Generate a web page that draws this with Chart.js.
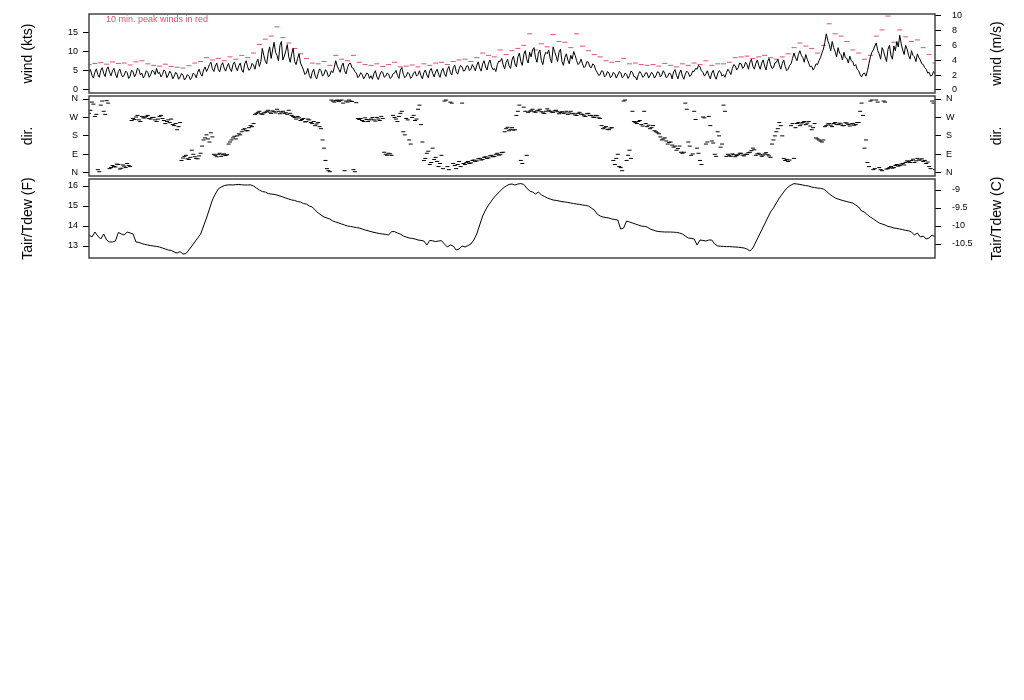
<!DOCTYPE html>
<html>
<head>
<meta charset="utf-8">
<script src="https://cdn.jsdelivr.net/npm/chart.js@4.4.0/dist/chart.umd.min.js"></script>
<style>
  body { margin: 0; background: #fff; }
  #wrap { position: relative; width: 1024px; height: 700px; }
  #wrap canvas { position: absolute; left: 0; top: 0; }
</style>
</head>
<body>
<div id="wrap">
  <canvas id="windChart" width="1024" height="270"></canvas>
  <canvas id="dirChart" width="1024" height="270"></canvas>
  <canvas id="tempChart" width="1024" height="270"></canvas>
</div>
<script>
// 3 days of station data, hours 0..72
var hoursTotal = 72;

// mean wind, kts, every 7.5 min
var windKts = [
  4.5,5.3,3.8,3.1,4.6,5.5,4.0,3.3,5.1,5.8,4.3,3.5,5.4,6.0,4.6,3.7,5.0,5.6,4.2,3.2,4.8,5.4,4.1,3.4,
  3.9,4.9,4.5,3.0,3.6,5.2,4.7,3.4,4.2,5.7,5.3,3.9,4.4,3.1,3.8,5.0,4.6,3.3,4.0,5.1,4.9,4.0,5.6,4.3,
  4.6,3.4,4.0,5.2,4.8,3.2,3.9,4.9,4.3,2.9,3.6,4.6,4.1,2.8,3.4,4.3,3.8,2.6,3.1,4.0,3.6,2.7,3.3,4.4,
  4.0,3.2,4.6,5.4,4.2,3.6,5.2,6.0,4.8,5.6,6.6,7.2,5.5,4.8,6.2,7.0,5.4,4.7,6.4,7.1,5.7,4.9,6.1,6.9,
  5.5,4.8,6.6,7.3,5.9,5.0,6.3,7.0,5.2,4.6,6.8,7.6,6.0,5.1,5.6,6.9,6.5,5.4,7.2,8.0,6.1,7.4,10.8,9.0,
  7.5,6.8,9.6,11.2,8.2,10.4,12.4,9.8,9.0,7.6,11.6,12.6,7.8,8.8,10.2,11.8,8.6,7.2,9.4,10.8,7.4,6.6,8.2,9.4,
  7.0,6.2,5.2,4.0,4.4,5.6,3.8,3.0,4.6,5.4,3.6,2.9,4.3,5.5,5.0,3.6,4.1,5.3,4.7,3.4,3.9,5.0,4.5,5.9,
  7.6,6.2,5.4,4.6,6.2,7.0,5.0,4.2,5.8,6.8,7.0,5.8,5.6,4.8,4.4,3.2,3.6,4.5,4.0,2.9,3.5,4.4,4.2,3.0,
  3.7,2.8,4.3,5.0,3.4,2.7,3.9,4.8,4.6,3.3,3.6,4.4,4.1,3.0,3.3,4.2,4.4,5.1,3.8,3.0,5.2,5.8,4.1,3.2,
  3.6,4.6,4.2,3.0,3.5,4.4,4.8,3.6,4.0,5.0,3.7,2.9,4.5,5.2,3.9,3.2,5.0,5.6,4.3,3.4,4.7,5.4,4.1,3.3,
  4.9,5.6,4.2,3.5,5.3,6.1,4.6,3.9,5.8,6.5,4.8,4.1,5.5,6.4,6.0,4.9,5.1,6.2,6.3,5.0,5.4,6.6,5.9,5.0,
  6.4,7.3,5.7,4.9,6.8,7.6,6.0,5.2,7.0,7.8,6.2,5.3,5.6,4.8,6.6,7.5,7.4,8.2,6.5,5.5,7.2,8.0,6.3,5.6,
  7.8,8.8,6.8,6.0,8.6,9.6,7.4,6.4,9.2,10.2,8.0,7.0,9.8,8.6,10.5,11.0,8.4,7.2,9.6,10.4,7.6,6.6,8.8,9.8,
  9.4,10.4,8.2,7.0,11.2,10.0,8.8,7.4,9.8,10.6,7.4,6.4,8.4,9.4,7.8,6.8,9.0,8.0,10.0,9.0,7.6,6.6,7.0,8.0,
  6.8,5.8,6.2,7.4,7.2,6.0,5.8,6.8,6.4,5.2,4.6,3.8,4.0,5.0,4.8,3.4,3.8,4.8,4.4,3.2,3.6,4.6,4.2,3.1,
  3.9,4.8,4.5,3.2,3.5,4.4,4.1,3.0,3.7,4.9,4.6,3.5,3.4,2.6,4.0,4.8,4.3,3.3,3.6,4.5,4.4,3.1,3.8,4.6,
  4.1,3.1,3.7,4.7,4.6,3.4,3.9,5.0,4.3,3.2,3.5,4.4,4.2,2.9,4.7,5.3,3.8,2.9,4.4,5.2,3.6,2.8,4.1,4.9,
  4.5,3.5,3.9,4.9,4.8,5.6,5.4,6.4,6.0,5.0,4.6,3.6,4.2,5.0,3.8,2.9,4.4,5.1,3.6,2.8,4.2,5.0,4.7,3.6,
  4.0,3.3,4.5,5.4,4.8,4.0,5.6,6.6,6.3,5.2,5.8,7.0,6.8,5.6,6.0,7.2,6.6,5.4,7.2,8.0,6.2,5.4,6.9,7.8,
  6.4,5.4,7.0,7.8,6.2,5.2,7.4,8.2,6.6,5.6,5.8,7.0,7.2,8.0,6.5,5.4,6.9,7.8,6.1,5.0,5.4,6.4,6.8,8.2,
  9.6,8.4,7.6,9.2,10.2,9.0,8.4,7.2,9.2,8.0,7.0,6.0,6.2,5.2,5.8,6.8,6.6,7.6,8.4,9.6,10.6,12.4,14.6,12.8,
  11.8,10.2,12.6,11.0,10.0,8.6,11.0,9.6,9.2,7.8,9.8,8.4,8.2,7.0,8.8,7.6,7.4,6.2,6.6,5.4,5.0,4.0,3.4,4.2,
  4.4,3.6,5.0,6.8,8.6,9.8,10.4,11.4,12.2,10.2,9.4,8.0,11.0,10.0,8.6,7.4,10.6,11.6,9.0,8.0,11.4,10.2,12.6,11.2,
  14.2,12.0,10.4,9.2,11.6,10.6,9.0,8.0,10.2,9.0,8.6,7.4,9.4,8.4,7.8,6.8,6.6,5.8,5.4,4.4,4.6,3.6,3.8,4.8,4.2
];

// 10 min. peak winds, kts, every 30 min
var peakKts = [
  6.6,6.9,7.1,6.7,7.3,6.9, 7.0,6.5,7.3,7.6,6.8,6.4,
  6.2,6.7,6.1,5.9,5.7,6.3, 7.0,7.4,8.4,7.8,8.2,7.6,
  8.6,8.0,9.0,8.4,9.6,11.8, 13.2,14.0,16.4,13.6,12.2,10.8,
  9.4,8.2,7.0,6.8,7.4,6.4, 9.0,8.0,7.6,9.0,7.2,6.6,
  6.4,6.8,6.1,6.6,7.2,6.0, 6.2,6.5,6.0,6.8,6.4,7.0,
  7.2,6.6,7.4,7.8,8.0,7.4, 8.4,9.6,9.0,8.6,10.4,9.2,
  10.2,10.8,11.6,14.6,10.4,12.0, 11.2,14.4,12.6,12.4,11.0,14.6,
  11.4,10.2,9.2,8.6,7.6,7.2, 7.4,8.2,6.8,7.0,6.6,6.4,
  6.6,6.2,6.9,6.4,6.0,6.8, 6.4,7.0,6.6,7.6,6.4,6.8,
  6.8,7.2,8.4,8.6,8.8,8.2, 8.6,9.0,8.4,8.0,8.6,9.4,
  11.0,12.2,11.4,10.8,9.6,11.6, 17.2,14.6,14.0,12.6,10.4,9.6,
  8.0,9.0,14.0,15.6,19.2,12.4, 15.6,13.8,12.6,13.0,11.0,9.2,
  7.0
];

// wind direction, degrees, every 7.5 min
var windDir = [
  290,305,345,335,275,285,15,5,330,350,300,285,352,340,20,25,
  35,30,28,42,40,18,22,38,32,25,45,35,30,255,
  265,260,272,280,258,250,275,268,268,275,280,265,262,270,270,258,250,262,275,280,265,255,240,250,258,245,262,235,
  230,240,210,225,245,60,
  72,80,85,68,65,75,110,90,78,70,68,82,95,130,
  160,170,185,165,150,195,175,90,
  85,78,90,95,80,88,92,84,88,140,
  150,160,170,178,165,180,190,185,200,210,215,205,205,220,230,225,240,285,
  290,295,300,288,285,292,295,300,305,296,290,302,298,292,310,300,288,296,300,290,293,285,305,290,
  280,275,270,262,275,268,255,260,265,248,250,262,258,245,240,250,230,238,245,225,215,160,
  120,60,20,10,5,355,350,345,
  352,355,348,352,355,340,10,350,345,355,350,348,15,5,342,265,
  260,265,255,250,268,260,250,258,262,270,258,252,270,262,255,275,265,100,90,85,95,92,85,280,270,262,
  250,275,290,300,200,185,265,258,160,140,270,280,255,262,310,330,235,150,
  60,70,95,105,40,50,120,65,75,55,30,45,85,20,
  350,355,30,15,345,340,45,35,20,40,55,30,340,45,
  40,50,55,45,48,60,62,55,58,68,70,62,65,75,78,70,72,82,85,78,80,90,95,86,88,98,100,200,
  215,222,205,212,220,208,210,280,
  300,330,60,45,320,300,85,295,
  300,305,310,298,295,302,305,310,298,292,290,300,312,305,300,296,295,302,305,298,288,294,298,290,292,300,
  285,292,300,288,290,282,280,290,295,286,285,278,275,288,290,280,280,272,270,280,278,268,265,230,
  215,220,225,212,210,218,220,60,
  40,70,90,30,25,10,350,355,60,85,110,70,300,250,
  245,240,250,255,235,228,300,240,225,232,215,220,230,205,200,195,190,175,160,165,170,155,140,148,150,135,125,130,110,118,130,100,
  95,100,340,310,150,130,85,92,300,260,120,95,60,40,272,268,140,150,275,230,155,145,90,80,200,180,125,140,330,300,80,90,
  85,80,92,88,78,84,88,95,95,86,82,90,90,98,100,108,120,112,85,92,95,88,80,86,92,98,88,82,75,140,
  160,180,200,215,245,230,180,70,
  60,65,55,62,230,240,70,220,
  240,245,230,238,245,250,235,242,250,228,210,220,240,170,
  165,160,155,150,
  160,225,230,238,240,232,225,240,245,236,235,242,238,230,230,244,242,235,228,238,240,232,235,245,245,300,
  340,280,120,160,50,30,
  350,355,15,20,355,345,25,15,10,350,345,18,
  20,25,30,22,25,35,40,32,35,42,45,38,50,58,
  55,50,60,66,50,58,70,62,62,68,55,60,45,52,30,20,350,340,15
];

// air temperature, F, every 15 min
var tairF = [
  13.55,13.45,13.7,13.5,13.35,13.6,13.3,13.2,13.2,13.25,13.68,13.6,13.55,13.7,13.65,13.6,
  13.2,13.18,13.12,13.08,13.05,13.02,13.0,12.98,12.95,12.9,12.85,12.8,12.78,12.7,12.65,12.72,
  12.6,12.62,12.8,13.0,13.2,13.4,13.6,14.0,14.4,14.85,15.3,15.6,15.85,15.95,16.02,16.05,
  16.06,16.05,16.07,16.08,16.06,16.05,16.05,16.06,16.0,15.9,15.8,15.72,15.7,15.62,15.6,15.58,
  15.55,15.5,15.45,15.4,15.35,15.3,15.28,15.22,15.2,15.12,15.1,15.0,14.95,14.8,14.65,14.55,
  14.45,14.4,14.35,14.25,14.2,14.15,14.1,14.05,14.0,13.98,13.95,13.92,13.9,13.85,13.8,13.76,
  13.72,13.68,13.65,13.62,13.6,13.58,13.55,13.72,13.72,13.65,13.6,13.5,13.45,13.4,13.38,13.35,
  13.3,13.28,13.25,13.05,13.28,13.26,13.22,13.25,13.27,13.1,12.95,13.05,13.0,12.8,12.85,13.0,
  12.95,13.02,13.1,13.3,13.6,14.05,14.5,14.8,15.05,15.25,15.45,15.6,15.75,15.9,16.0,16.08,
  16.1,16.05,16.1,16.12,16.08,15.9,15.75,15.7,15.6,15.7,15.55,15.48,15.4,15.35,15.3,15.28,
  15.25,15.22,15.2,15.18,15.15,15.12,15.1,15.08,15.05,15.03,15.0,14.9,14.8,14.6,14.5,14.45,
  14.42,14.4,14.35,14.32,14.3,13.85,13.9,14.25,14.2,14.15,14.1,14.05,14.0,13.98,13.95,13.85,
  13.8,13.75,13.72,13.71,13.7,13.7,13.7,13.69,13.68,13.65,13.6,13.5,13.4,13.38,13.35,13.05,
  13.3,13.28,13.25,13.3,13.3,13.1,13.0,12.99,12.98,12.97,12.97,12.96,12.95,12.94,12.92,12.9,
  12.85,12.75,12.9,13.2,13.5,13.8,14.1,14.4,14.7,14.9,15.15,15.4,15.6,15.8,15.95,16.05,
  16.12,16.1,16.08,16.05,16.02,16.0,15.95,15.92,15.9,15.88,15.85,15.75,15.6,15.5,15.4,15.35,
  15.3,15.26,15.22,15.18,15.15,15.05,14.95,14.75,14.7,14.55,14.45,14.35,14.25,14.15,14.1,14.05,
  13.98,13.95,13.9,13.88,13.85,13.82,13.78,13.76,13.7,13.55,13.65,13.45,13.5,13.35,13.4,13.55,
  13.45
];

var ktsTicks = [0, 5, 10, 15];
var msTicks = [0, 2, 4, 6, 8, 10];
var dirTicks = [0, 90, 180, 270, 360];
var dirLabels = ['N', 'E', 'S', 'W', 'N'];
var fTicks = [13, 14, 15, 16];
var cTicks = [-9, -9.5, -10, -10.5];

var KTS_PER_MS = 1.944;

Chart.defaults.font.family = '"Liberation Sans", Arial, Helvetica, sans-serif';
Chart.defaults.color = '#000';

function toPoints(arr) {
  var step = hoursTotal / (arr.length - 1);
  return arr.map(function(v, i) { return {x: i * step, y: v}; });
}

function fToC(f) { return (f - 32) / 1.8; }

function yAxis(position, min, max, values, fmt, title, pad) {
  return {
    position: position,
    min: min,
    max: max,
    afterBuildTicks: function(axis) {
      axis.ticks = values.map(function(v) { return {value: v}; });
    },
    afterFit: function(axis) {
      axis.width = 89;
      // keep label overhang from pushing the plot area about
      axis.paddingTop = 0;
      axis.paddingBottom = 0;
    },
    ticks: {
      font: {size: 9},
      color: '#000',
      padding: pad || 5,
      callback: fmt || function(v) { return String(v); }
    },
    grid: {drawOnChartArea: false, drawTicks: true, tickLength: 6, tickColor: '#000', tickWidth: 1},
    border: {display: false},
    title: title
      ? {display: true, text: title, font: {size: 14}, color: '#000', padding: {top: 20, bottom: 0}}
      : {display: false}
  };
}

// box round the plot, right side title, optional note
var boxPlugin = {
  id: 'box',
  afterDraw: function(chart, args, opts) {
    var a = chart.chartArea, ctx = chart.ctx;
    ctx.save();
    ctx.strokeStyle = '#444';
    ctx.lineWidth = 1.5;
    ctx.strokeRect(a.left, a.top, a.right - a.left, a.bottom - a.top);
    if (opts.note) {
      ctx.font = '9px "Liberation Sans", Arial, sans-serif';
      ctx.fillStyle = '#DF536B';
      ctx.textAlign = 'left';
      ctx.textBaseline = 'middle';
      ctx.fillText(opts.note, 106, a.top + 6);
    }
    ctx.translate(997, (a.top + a.bottom) / 2);
    ctx.rotate(-Math.PI / 2);
    ctx.font = '14px "Liberation Sans", Arial, sans-serif';
    ctx.fillStyle = '#000';
    ctx.textAlign = 'center';
    ctx.textBaseline = 'middle';
    ctx.fillText(opts.rightTitle, 0, 0);
    ctx.restore();
  }
};

var xHidden = {type: 'linear', min: 0, max: hoursTotal, display: false};

function baseOptions(pad, scales, boxOpts) {
  return {
    responsive: false,
    animation: false,
    devicePixelRatio: 1,
    layout: {padding: pad},
    plugins: {legend: {display: false}, tooltip: {enabled: false}, box: boxOpts},
    scales: scales
  };
}

// wind panel: chart area y 14..93
var ktsMin = -0.78, ktsMax = 19.74;
new Chart(document.getElementById('windChart'), {
  type: 'line',
  data: {
    datasets: [
      {
        data: toPoints(windKts),
        borderColor: '#000',
        borderWidth: 1,
        pointRadius: 0,
        tension: 0
      },
      {
        data: toPoints(peakKts),
        showLine: false,
        pointStyle: 'line',
        pointRadius: 2.5,
        pointBorderWidth: 1,
        pointBorderColor: '#DF536B',
        borderColor: '#DF536B'
      }
    ]
  },
  options: baseOptions({top: 14, bottom: 177, left: 0, right: 0}, {
    x: xHidden,
    y: yAxis('left', ktsMin, ktsMax, ktsTicks, null, 'wind (kts)'),
    y2: yAxis('right', ktsMin / KTS_PER_MS, ktsMax / KTS_PER_MS, msTicks, null, null, 11)
  }, {rightTitle: 'wind (m/s)', note: '10 min. peak winds in red'}),
  plugins: [boxPlugin]
});

// direction panel: chart area y 96..176
var dirMin = -16, dirMax = 374.7;
var dirFmt = function(v, i) { return dirLabels[i]; };
new Chart(document.getElementById('dirChart'), {
  type: 'line',
  data: {
    datasets: [{
      data: toPoints(windDir),
      showLine: false,
      pointStyle: 'line',
      pointRadius: 2,
      pointBorderWidth: 1,
      pointBorderColor: '#000',
      borderColor: '#000'
    }]
  },
  options: baseOptions({top: 96, bottom: 94, left: 0, right: 0}, {
    x: xHidden,
    y: yAxis('left', dirMin, dirMax, dirTicks, dirFmt, 'dir.'),
    y2: yAxis('right', dirMin, dirMax, dirTicks, dirFmt, null)
  }, {rightTitle: 'dir.'}),
  plugins: [boxPlugin]
});

// temperature panel: chart area y 179..258
var fMin = 12.4, fMax = 16.35;
new Chart(document.getElementById('tempChart'), {
  type: 'line',
  data: {
    datasets: [{
      data: toPoints(tairF),
      borderColor: '#000',
      borderWidth: 1,
      pointRadius: 0,
      tension: 0
    }]
  },
  options: baseOptions({top: 179, bottom: 12, left: 0, right: 0}, {
    x: xHidden,
    y: yAxis('left', fMin, fMax, fTicks, null, 'Tair/Tdew (F)'),
    y2: yAxis('right', fToC(fMin), fToC(fMax), cTicks, null, null, 11)
  }, {rightTitle: 'Tair/Tdew (C)'}),
  plugins: [boxPlugin]
});
</script>
</body>
</html>
